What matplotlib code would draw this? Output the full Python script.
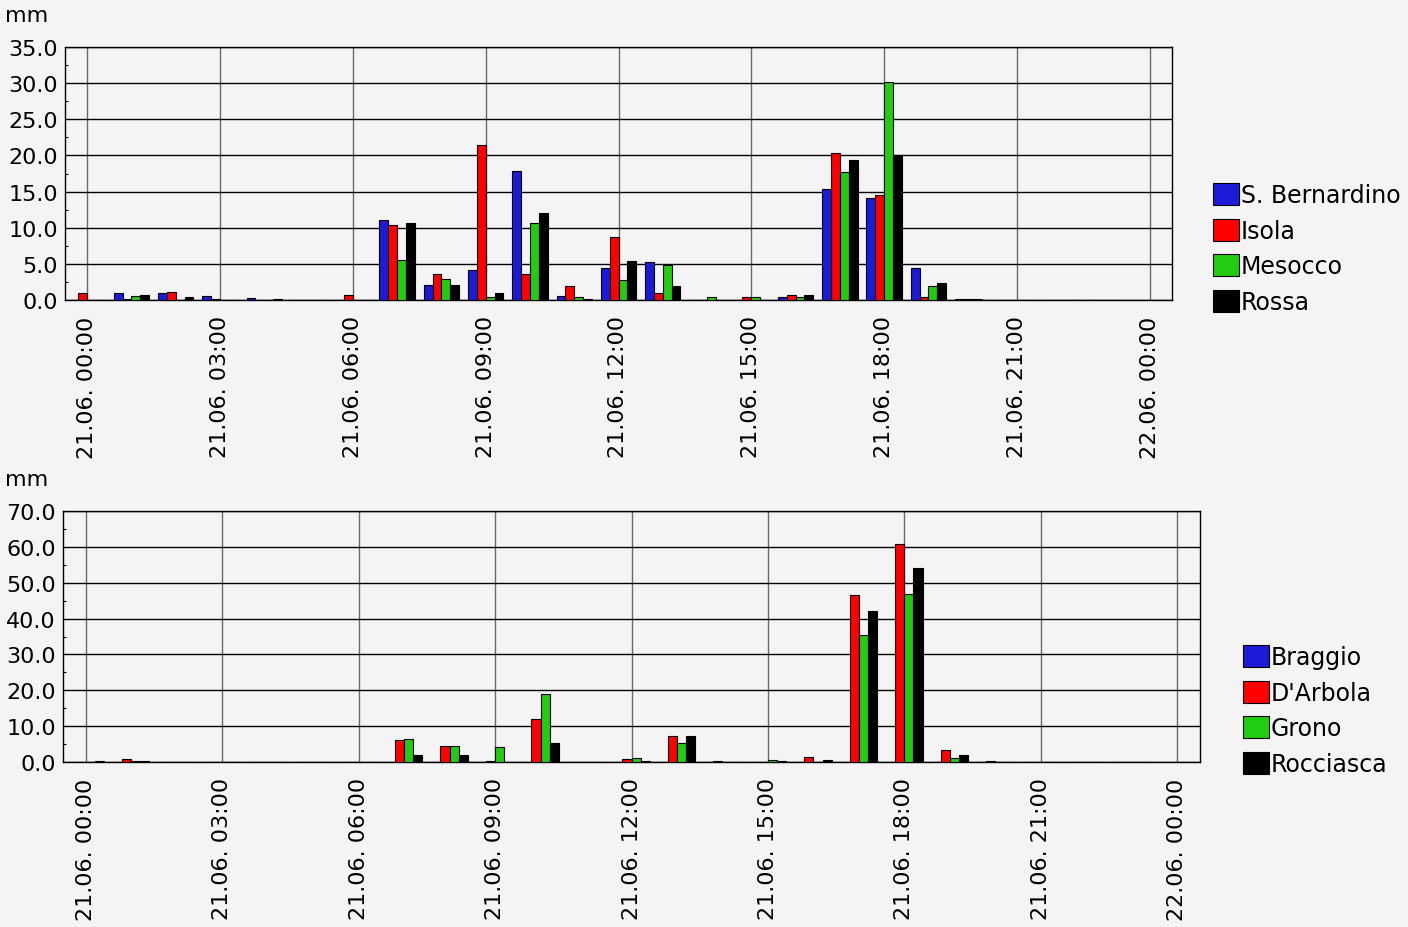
import numpy as np
import matplotlib
matplotlib.use("Agg")
import matplotlib.pyplot as plt
from matplotlib.ticker import MultipleLocator, FixedLocator, FormatStrFormatter

# ---- data (mm per hour, 21.06. 00:00 .. 23:00) ----
hours = list(range(24))
tick_hours = [0, 3, 6, 9, 12, 15, 18, 21, 24]
tick_labels = ["21.06. 00:00", "21.06. 03:00", "21.06. 06:00", "21.06. 09:00",
               "21.06. 12:00", "21.06. 15:00", "21.06. 18:00", "21.06. 21:00",
               "22.06. 00:00"]

top_names = ["S. Bernardino", "Isola", "Mesocco", "Rossa"]
s_bernardino = [0, 0.9, 0.9, 0.5, 0.25, 0, 0, 11.1, 2.1, 4.1, 17.9, 0.6,
                4.4, 5.2, 0, 0, 0.45, 15.3, 14.1, 4.4, 0.1, 0, 0, 0]
isola = [1.0, 0.1, 1.15, 0.1, 0, 0, 0.75, 10.4, 3.6, 21.4, 3.6, 1.95,
         8.7, 0.9, 0, 0.35, 0.75, 20.3, 14.5, 0.45, 0.1, 0, 0, 0]
mesocco = [0, 0.5, 0.05, 0, 0, 0, 0, 5.6, 2.9, 0.4, 10.6, 0.4,
           2.8, 4.85, 0.4, 0.35, 0.35, 17.7, 30.1, 2.0, 0.1, 0, 0, 0]
rossa = [0, 0.75, 0.4, 0, 0.15, 0, 0, 10.6, 2.1, 0.9, 12.0, 0.1,
         5.35, 2.0, 0, 0, 0.75, 19.4, 20.0, 2.4, 0.05, 0, 0, 0]

bottom_names = ["Braggio", "D'Arbola", "Grono", "Rocciasca"]
braggio = [0] * 24
darbola = [0, 0.7, 0, 0, 0, 0, 0, 6.0, 4.35, 0.15, 11.9, 0,
           0.75, 7.3, 0.4, 0, 1.3, 46.5, 60.9, 3.35, 0.2, 0, 0, 0]
grono = [0, 0.2, 0, 0, 0, 0, 0, 6.5, 4.6, 4.1, 19.0, 0,
         1.0, 5.4, 0.1, 0.6, 0, 35.3, 46.8, 1.1, 0, 0, 0, 0]
rocciasca = [0.2, 0.2, 0, 0, 0, 0, 0, 1.95, 1.95, 0, 5.2, 0,
             0.2, 7.3, 0, 0.2, 0.5, 42.0, 54.1, 1.85, 0, 0, 0, 0]

colors = ["#1c1cd8", "#ff0000", "#22cc11", "#000000"]
bg = "#f4f4f4"

plt.rcParams['font.family'] = ['DejaVu Sans']
fig = plt.figure(figsize=(14.08, 9.28), dpi=100, facecolor=bg)


def draw_panel(rect, series, names, ymax, ystep, legend_xy, mm_y):
    ax = fig.add_axes(rect, facecolor=bg)
    x = np.array(hours)
    bars = []
    for i, (vals, col) in enumerate(zip(series, colors)):
        b = ax.bar(x + (i - 1.5) * 0.2, vals, width=0.2, color=col,
                   edgecolor="black", linewidth=0.8, zorder=3)
        bars.append(b)
    ax.set_xlim(-0.5, 24.5)
    ax.set_ylim(0, ymax)
    ax.xaxis.set_major_locator(FixedLocator(tick_hours))
    ax.set_xticklabels(tick_labels, rotation=90, fontsize=16)
    ax.tick_params(axis="x", length=0, pad=11)
    ax.yaxis.set_major_locator(MultipleLocator(ystep))
    ax.yaxis.set_minor_locator(MultipleLocator(ystep / 2))
    ax.yaxis.set_major_formatter(FormatStrFormatter("%.1f"))
    ax.tick_params(axis="y", which="major", length=0, pad=5, labelsize=16)
    ax.tick_params(axis="y", which="minor", direction="in", length=2.5, width=0.8)
    ax.set_axisbelow(True)
    ax.grid(axis="y", color="black", linewidth=1.0)
    ax.grid(axis="x", color="#6a6a6a", linewidth=1.0)
    for s in ax.spines.values():
        s.set_color("black")
        s.set_linewidth(1.0)
    fig.text(5 / 1408, mm_y, "mm", fontsize=16, va="baseline", ha="left")
    fig.legend([b.patches[0] for b in bars], names, loc="upper left",
               bbox_to_anchor=legend_xy, frameon=False, fontsize=17,
               handlelength=1.08, handleheight=1.08, handletextpad=0.1,
               labelspacing=0.48, borderpad=0, borderaxespad=0)
    return ax


ax1 = draw_panel([65 / 1408, 1 - 301 / 928, 1107 / 1408, 253 / 928],
                 [s_bernardino, isola, mesocco, rossa], top_names, 35, 5,
                 (1213 / 1408, 1 - 184 / 928), 1 - 22 / 928)
ax2 = draw_panel([63 / 1408, 1 - 763 / 928, 1137 / 1408, 251 / 928],
                 [braggio, darbola, grono, rocciasca], bottom_names, 70, 10,
                 (1243 / 1408, 1 - 646 / 928), 1 - 486 / 928)

fig.savefig("out.png", dpi=100, facecolor=bg)
